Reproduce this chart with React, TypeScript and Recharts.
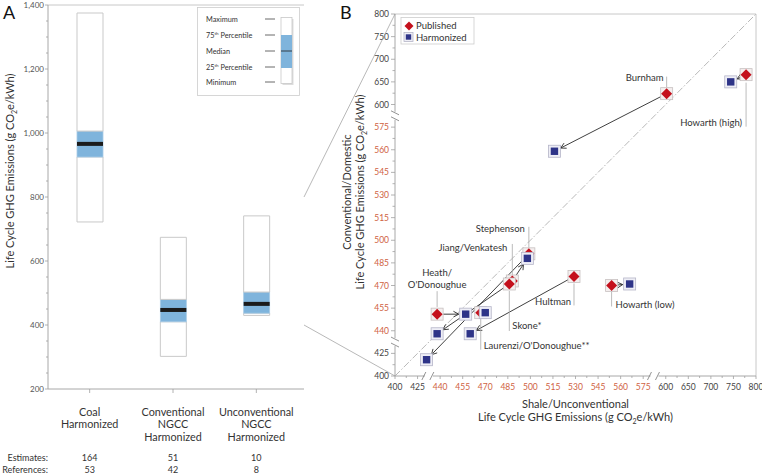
import React from 'react';
import { ComposedChart, Bar, XAxis, YAxis, ScatterChart, Scatter, ReferenceLine } from 'recharts';

// Panel A: distribution of harmonized estimates
const categories = [['Coal', 'Harmonized'], ['Conventional', 'NGCC', 'Harmonized'], ['Unconventional', 'NGCC', 'Harmonized']];
const minimum = [722, 302, 430];
const p25 = [925, 410, 437];
const median = [966, 447, 466];
const p75 = [1006, 480, 503];
const maximum = [1375, 674, 741];
const estimates = [164, 51, 10];
const references = [53, 42, 8];
const yTicksA = [200, 250, 300, 350, 400, 450, 500, 550, 600, 650, 700, 750, 800, 850, 900, 950, 1000, 1050, 1100, 1150, 1200, 1250, 1300, 1350, 1400];

// Panel B: published vs harmonized, shale vs conventional
const studies = ['Burnham', 'Howarth (high)', 'Stephenson', 'Jiang/Venkatesh', "Heath/O'Donoughue", 'Hultman', 'Howarth (low)', 'Skone*', "Laurenzi/O'Donoughue**"];
const publishedX = [602, 778, 499, 488, 438, 529, 554, 486, 467];
const publishedY = [624, 666, 491, 473, 451, 476, 470, 471, 452];
const harmonizedX = [516, 744, 431, 498, 457, 460, 566, 438, 470];
const harmonizedY = [559, 650, 418, 488, 451, 438, 471, 438, 452];
const axisLabelsB = [400, 425, 440, 455, 470, 485, 500, 515, 530, 545, 560, 575, 600, 650, 700, 750, 800];
const brokenRange = [440, 575];

const FONT = 'Lato, "Open Sans", sans-serif';
const ORANGE = '#cf623f';
const BLUE = '#7fb4dc';

// piecewise scale for the broken axes: every labelled value sits on an equal step
const toIdx = (v: number) => {
  for (let i = 0; i < axisLabelsB.length - 1; i++) {
    const a = axisLabelsB[i], b = axisLabelsB[i + 1];
    if (v <= b || i === axisLabelsB.length - 2) return i + (v - a) / (b - a);
  }
  return 0;
};
const maxIdx = axisLabelsB.length - 1;
const ticksB: number[] = [];
for (let i = 0; i <= maxIdx * 2; i++) ticksB.push(i / 2);

const boxData = categories.map((c, i) => ({
  name: c.join(' '),
  base: minimum[i],
  lower: p25[i] - minimum[i],
  iqr: p75[i] - p25[i],
  upper: maximum[i] - p75[i],
  median: median[i],
  p25: p25[i],
  p75: p75[i],
}));

const pubData = studies.map((s, i) => ({ name: s, x: toIdx(publishedX[i]), y: toIdx(publishedY[i]) }));
const harmData = studies.map((s, i) => ({ name: s, x: toIdx(harmonizedX[i]), y: toIdx(harmonizedY[i]) }));

const labelLayout: Record<string, { l: [number, number]; tx: number; ty: number; anchor: 'start' | 'end' | 'middle'; lines: string[] }> = {
  Burnham: { l: [-17, -6], tx: -3, ty: -13, anchor: 'end', lines: ['Burnham'] },
  'Howarth (high)': { l: [8, 52], tx: -4, ty: 51, anchor: 'end', lines: ['Howarth (high)'] },
  Stephenson: { l: [-27, -6], tx: -4, ty: -22, anchor: 'end', lines: ['Stephenson'] },
  'Jiang/Venkatesh': { l: [-37, -6], tx: -5, ty: -30, anchor: 'end', lines: ['Jiang/Venkatesh'] },
  "Heath/O'Donoughue": { l: [-23, -7], tx: 0, ty: -38.5, anchor: 'middle', lines: ['Heath/', "O'Donoughue"] },
  Hultman: { l: [7, 29], tx: -3, ty: 29, anchor: 'end', lines: ['Hultman'] },
  'Howarth (low)': { l: [5, 21], tx: 4, ty: 22.5, anchor: 'start', lines: ['Howarth (low)'] },
  'Skone*': { l: [7, 47], tx: 3, ty: 45, anchor: 'start', lines: ['Skone*'] },
  "Laurenzi/O'Donoughue**": { l: [5, 37], tx: 3, ty: 36, anchor: 'start', lines: ["Laurenzi/O'Donoughue**"] },
};

const IqrShape = (props: any) => {
  const { x, y, width, height, payload } = props;
  const my = y + (height * (payload.p75 - payload.median)) / (payload.p75 - payload.p25);
  return (
    <g>
      <rect x={x} y={y} width={width} height={height} fill={BLUE} stroke="#a8cbe6" strokeWidth={0.8} />
      <rect x={x} y={my - 2} width={width} height={4} fill="#1b1b1b" />
    </g>
  );
};

const YTickA = (props: any) => {
  const { x, y, payload } = props;
  const major = payload.value % 200 === 0;
  return (
    <g>
      <line x1={x - (major ? 3 : 2)} x2={x} y1={y} y2={y} stroke="#a0a0a0" strokeWidth={0.8} />
      {major && (
        <text x={x - 4} y={y + 3} textAnchor="end" fontSize={8} fill="#555" fontFamily={FONT}>
          {payload.value.toLocaleString('en-US')}
        </text>
      )}
    </g>
  );
};

const XTickA = (props: any) => {
  const { x, y, index } = props;
  return (
    <g fontFamily={FONT} fill="#333" textAnchor="middle">
      <line x1={x} x2={x} y1={y} y2={y + 4} stroke="#a0a0a0" strokeWidth={0.8} />
      {categories[index].map((t, k) => (
        <text key={k} x={x} y={y + 27 + k * 12.3} fontSize={10.8}>{t}</text>
      ))}
      <text x={x} y={y + 72} fontSize={9}>{estimates[index]}</text>
      <text x={x} y={y + 84} fontSize={9}>{references[index]}</text>
    </g>
  );
};

const labelColor = (i: number) => {
  const v = axisLabelsB[i];
  return v >= brokenRange[0] && v <= brokenRange[1] ? ORANGE : '#444';
};
const isBreak = (v: number) => v === 1.5 || v === 11.5;

const XTickB = (props: any) => {
  const { x, y, payload } = props;
  const v = payload.value;
  if (isBreak(v)) {
    return (
      <g stroke="#777" strokeWidth={0.8}>
        <rect x={x - 4} y={y - 1.5} width={8} height={3} fill="#fff" stroke="none" />
        <line x1={x - 7} y1={y + 4} x2={x - 3} y2={y - 4} />
        <line x1={x + 1} y1={y + 4} x2={x + 5} y2={y - 4} />
      </g>
    );
  }
  const major = Number.isInteger(v);
  return (
    <g>
      <line x1={x} x2={x} y1={y} y2={y + (major ? 3 : 2)} stroke="#a0a0a0" strokeWidth={0.8} />
      {major && (
        <text x={x} y={y + 14} textAnchor="middle" fontSize={8.5} fill={labelColor(v)} fontFamily={FONT}>
          {axisLabelsB[v]}
        </text>
      )}
    </g>
  );
};

const YTickB = (props: any) => {
  const { x, y, payload } = props;
  const v = payload.value;
  if (isBreak(v)) {
    return (
      <g stroke="#777" strokeWidth={0.8}>
        <rect x={x - 1.5} y={y - 4} width={3} height={8} fill="#fff" stroke="none" />
        <line x1={x - 4} y1={y + 1} x2={x + 4} y2={y + 5} />
        <line x1={x - 4} y1={y - 5} x2={x + 4} y2={y - 1} />
      </g>
    );
  }
  const major = Number.isInteger(v);
  return (
    <g>
      <line x1={x - (major ? 4 : 2.5)} x2={x} y1={y} y2={y} stroke="#a0a0a0" strokeWidth={0.8} />
      {major && (
        <text x={x - 6} y={y + 3} textAnchor="end" fontSize={8.5} fill={labelColor(v)} fontFamily={FONT}>
          {axisLabelsB[v]}
        </text>
      )}
    </g>
  );
};

const PublishedShape = (props: any) => {
  const { cx, cy } = props;
  return (
    <g>
      <rect x={cx - 6} y={cy - 6} width={12} height={12} fill="#f4eeee" stroke="#c7c0c0" strokeWidth={0.8} />
      <path d={`M${cx},${cy - 5.5}L${cx + 5.5},${cy}L${cx},${cy + 5.5}L${cx - 5.5},${cy}Z`} fill="#c4101c" />
    </g>
  );
};

const HarmonizedShape = (props: any) => {
  const { cx, cy } = props;
  return (
    <g>
      <rect x={cx - 6} y={cy - 6} width={12} height={12} fill="#eeeef6" stroke="#b5b5c8" strokeWidth={0.8} />
      <rect x={cx - 3.7} y={cy - 3.7} width={7.4} height={7.4} fill="#2e3488" />
    </g>
  );
};

const LabelShape = (props: any) => {
  const { cx, cy, payload } = props;
  const lay = labelLayout[payload.name];
  if (!lay) return null;
  return (
    <g fontFamily={FONT}>
      <line x1={cx} x2={cx} y1={cy + lay.l[0]} y2={cy + lay.l[1]} stroke="#aaa" strokeWidth={0.8} />
      {lay.lines.map((t, k) => (
        <text key={k} x={cx + lay.tx} y={cy + lay.ty + k * 12} textAnchor={lay.anchor} fontSize={9.5} fill="#333">{t}</text>
      ))}
    </g>
  );
};

const ArrowShape = (props: any) => {
  const { x1, y1, x2, y2 } = props;
  const dx = x2 - x1, dy = y2 - y1;
  const d = Math.hypot(dx, dy);
  if (d < 14) return <g />;
  const ux = dx / d, uy = dy / d;
  const sx = x1 + ux * 6, sy = y1 + uy * 6;
  const ex = x2 - ux * 7, ey = y2 - uy * 7;
  const a = 0.5, len = 6;
  const hx1 = ex - len * (ux * Math.cos(a) - uy * Math.sin(a));
  const hy1 = ey - len * (uy * Math.cos(a) + ux * Math.sin(a));
  const hx2 = ex - len * (ux * Math.cos(a) + uy * Math.sin(a));
  const hy2 = ey - len * (uy * Math.cos(a) - ux * Math.sin(a));
  return (
    <g stroke="#2a2a2a" strokeWidth={0.9} fill="none">
      <line x1={sx} y1={sy} x2={ex} y2={ey} />
      <polyline points={`${hx1},${hy1} ${ex},${ey} ${hx2},${hy2}`} />
    </g>
  );
};

// layout of the two panels (px)
const A = { w: 310, h: 474, top: 5, axisW: 48, axisH: 85, right: 6 };
const B = { left: 340, w: 422, h: 474, top: 14, axisW: 55, axisH: 98, right: 6 };
const aPlotBottom = A.h - A.axisH;
const yA = (v: number) => A.top + ((1400 - v) / 1200) * (aPlotBottom - A.top);
const bLeft = B.left + B.axisW;
const bBottom = B.h - B.axisH;

export default function App() {
  return (
    <div style={{ position: 'absolute', left: 0, top: 0, width: 762, height: 474, background: '#fff', fontFamily: FONT }}>
      <div style={{ position: 'absolute', left: 0, top: 0 }}>
        <ComposedChart width={A.w} height={A.h} data={boxData} margin={{ top: A.top, right: A.right, bottom: 0, left: 0 }} barSize={26}>
          <XAxis dataKey="name" height={A.axisH} tickSize={0} tickMargin={0} tickLine={false} interval={0}
            padding={{ left: 0, right: 6 }} axisLine={{ stroke: '#a8a8a8' }} tick={<XTickA />} />
          <YAxis width={A.axisW} domain={[200, 1400]} ticks={yTicksA} interval={0} allowDataOverflow
            tickSize={0} tickMargin={0} tickLine={false} axisLine={{ stroke: '#a8a8a8' }} tick={<YTickA />} />
          <YAxis yAxisId="frame" orientation="right" width={0} domain={[200, 1400]} tick={false} axisLine={{ stroke: '#c8c8c8' }} />
          <ReferenceLine y={1400} stroke="#c8c8c8" />
          <Bar dataKey="base" stackId="box" fill="transparent" isAnimationActive={false} />
          <Bar dataKey="lower" stackId="box" fill="#fff" stroke="#c9c9c9" strokeWidth={1} isAnimationActive={false} />
          <Bar dataKey="iqr" stackId="box" shape={<IqrShape />} isAnimationActive={false} />
          <Bar dataKey="upper" stackId="box" fill="#fff" stroke="#c9c9c9" strokeWidth={1} isAnimationActive={false} />
        </ComposedChart>
      </div>

      <div style={{ position: 'absolute', left: B.left, top: 0 }}>
        <ScatterChart width={B.w} height={B.h} margin={{ top: B.top, right: B.right, bottom: 0, left: 0 }}>
          <XAxis type="number" dataKey="x" domain={[0, maxIdx]} ticks={ticksB} interval={0} allowDataOverflow
            height={B.axisH} tickSize={0} tickMargin={0} tickLine={false} axisLine={{ stroke: '#a8a8a8' }} tick={<XTickB />} />
          <YAxis type="number" dataKey="y" domain={[0, maxIdx]} ticks={ticksB} interval={0} allowDataOverflow
            width={B.axisW} tickSize={0} tickMargin={0} tickLine={false} axisLine={{ stroke: '#a8a8a8' }} tick={<YTickB />} />
          <ReferenceLine y={maxIdx} stroke="#c8c8c8" />
          <ReferenceLine x={maxIdx} stroke="#c8c8c8" />
          <ReferenceLine segment={[{ x: 0, y: 0 }, { x: maxIdx, y: maxIdx }]} stroke="#9a9a9a" strokeWidth={0.7} strokeDasharray="7 2 1.5 2" />
          {studies.map((s, i) => (
            <ReferenceLine key={s} segment={[{ x: pubData[i].x, y: pubData[i].y }, { x: harmData[i].x, y: harmData[i].y }]} shape={<ArrowShape />} />
          ))}
          <Scatter name="labels" data={pubData} shape={<LabelShape />} isAnimationActive={false} />
          <Scatter name="Published" data={pubData} shape={<PublishedShape />} isAnimationActive={false} />
          <Scatter name="Harmonized" data={harmData} shape={<HarmonizedShape />} isAnimationActive={false} />
        </ScatterChart>
      </div>

      <svg width={762} height={474} style={{ position: 'absolute', left: 0, top: 0, pointerEvents: 'none' }} fontFamily={FONT}>
        <text x={3} y={19} fontSize={18} fill="#111">A</text>
        <text x={340} y={19} fontSize={18} fill="#111">B</text>

        {/* zoom connectors from panel A to panel B */}
        <line x1={A.w - A.right} y1={yA(800)} x2={bLeft} y2={B.top} stroke="#999" strokeWidth={0.7} />
        <line x1={A.w - A.right} y1={yA(400)} x2={bLeft} y2={bBottom} stroke="#999" strokeWidth={0.7} />

        <text transform="translate(14,171) rotate(-90)" textAnchor="middle" fontSize={11} fill="#333">
          Life Cycle GHG Emissions (g CO<tspan fontSize={7} dy={3}>2</tspan><tspan dy={-3}>e/kWh)</tspan>
        </text>
        <text x={A.axisW} y={aPlotBottom + 72} textAnchor="end" fontSize={9} fill="#333">Estimates:</text>
        <text x={A.axisW} y={aPlotBottom + 84} textAnchor="end" fontSize={9} fill="#333">References:</text>

        {/* box legend */}
        <rect x={197.5} y={7.5} width={102} height={88} fill="#fff" stroke="#ccc" strokeWidth={0.8} />
        {[['Maximum', 19], ['75th Percentile', 35], ['Median', 51], ['25th Percentile', 67], ['Minimum', 82]].map(([t, y]) => (
          <g key={t as string}>
            <text x={206} y={(y as number) + 2.5} fontSize={7.3} fill="#333">
              {(t as string).startsWith('75') || (t as string).startsWith('25') ? (
                <>{(t as string).slice(0, 2)}<tspan fontSize={4.5} dy={-2.5}>th</tspan><tspan dy={2.5}> Percentile</tspan></>
              ) : t}
            </text>
            <line x1={265} x2={275} y1={y as number} y2={y as number} stroke="#444" strokeWidth={0.8} />
          </g>
        ))}
        <rect x={282.5} y={19} width={11} height={66} fill="#ddd" />
        <rect x={281} y={17.5} width={11} height={66} fill="#fff" stroke="#c8c8c8" strokeWidth={0.8} />
        <rect x={281} y={35} width={11} height={33} fill={BLUE} />
        <line x1={281} x2={292} y1={51} y2={51} stroke="#222" strokeWidth={0.8} />

        {/* scatter legend */}
        <rect x={401} y={17.5} width={73} height={26.5} fill="#fff" stroke="#ccc" strokeWidth={0.8} />
        <path d="M409,21.5L413.5,26L409,30.5L404.5,26Z" fill="#c4101c" />
        <text x={416} y={29} fontSize={9.5} fill="#333">Published</text>
        <rect x={404} y={32.5} width={9} height={9} fill="#eeeef6" stroke="#b5b5c8" strokeWidth={0.8} />
        <rect x={405.8} y={34.3} width={5.4} height={5.4} fill="#2e3488" />
        <text x={416} y={40.5} fontSize={9.5} fill="#333">Harmonized</text>

        <text x={(bLeft + 762 - B.right) / 2} y={408} textAnchor="middle" fontSize={11} fill="#333">Shale/Unconventional</text>
        <text x={(bLeft + 762 - B.right) / 2} y={421} textAnchor="middle" fontSize={11} fill="#333">
          Life Cycle GHG Emissions (g CO<tspan fontSize={7} dy={3}>2</tspan><tspan dy={-3}>e/kWh)</tspan>
        </text>
        <text transform="translate(351,192) rotate(-90)" textAnchor="middle" fontSize={11} fill="#333">Conventional/Domestic</text>
        <text transform="translate(364,192) rotate(-90)" textAnchor="middle" fontSize={11} fill="#333">
          Life Cycle GHG Emissions (g CO<tspan fontSize={7} dy={3}>2</tspan><tspan dy={-3}>e/kWh)</tspan>
        </text>
      </svg>
    </div>
  );
}
